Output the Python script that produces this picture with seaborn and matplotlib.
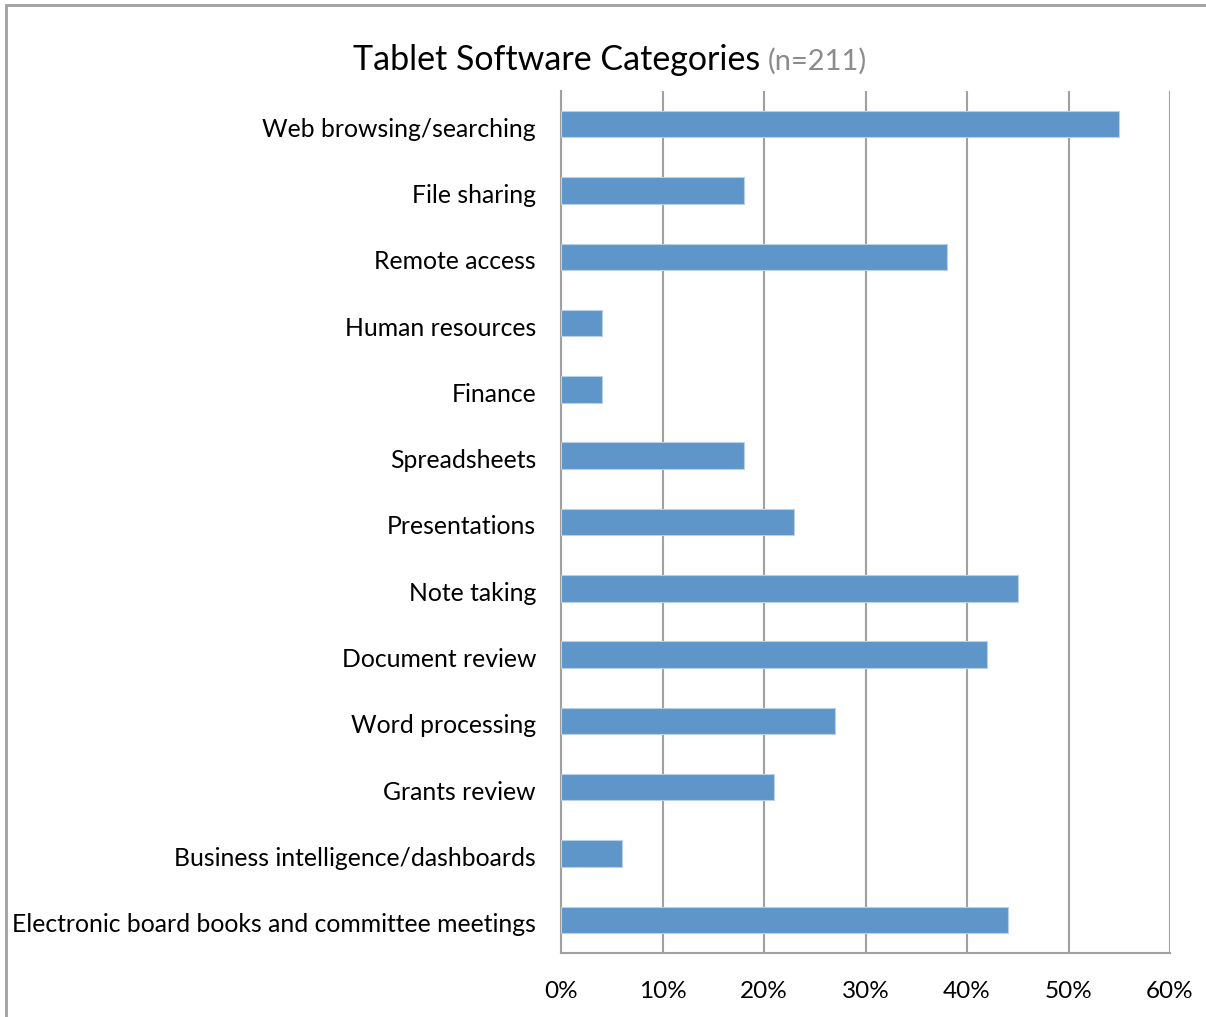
import pandas as pd
import seaborn as sns
import matplotlib.pyplot as plt
from matplotlib.patches import Rectangle
from matplotlib.ticker import PercentFormatter, FixedLocator
from matplotlib.transforms import ScaledTranslation

categories = ['Web browsing/searching', 'File sharing', 'Remote access', 'Human resources',
              'Finance', 'Spreadsheets', 'Presentations', 'Note taking', 'Document review',
              'Word processing', 'Grants review', 'Business intelligence/dashboards',
              'Electronic board books and committee meetings']
shares = [55, 18, 38, 4, 4, 18, 23, 45, 42, 27, 21, 6, 44]
x_ticks = [0, 10, 20, 30, 40, 50, 60]

data = pd.DataFrame({'Category': categories, 'Share': shares})

sns.set_style('white')
plt.rcParams['font.family'] = ['Lato', 'DejaVu Sans']

fig = plt.figure(figsize=(12.06, 10.17), dpi=100)
ax = fig.add_axes([561 / 1206, 1 - 953 / 1017, (1170 - 561) / 1206, (953 - 91) / 1017])

sns.barplot(data=data, x='Share', y='Category', color='#5F96C9', saturation=1, width=0.4,
            edgecolor='#B9D0E8', linewidth=0.8, ax=ax, zorder=3)

ax.set_xlim(0, 60)
ax.set_ylim(len(categories) - 0.5, -0.5)
ax.set_xticks(x_ticks)
ax.xaxis.set_major_formatter(PercentFormatter(decimals=0))
ax.grid(axis='x', color='#A0A0A0', linewidth=1.5, zorder=0)
ax.grid(axis='y', visible=False)
ax.set_xlabel('')
ax.set_ylabel('')

# y ticks: labels at centres, tick marks at category boundaries
ax.tick_params(axis='y', which='major', length=0, pad=18, labelsize=17.8, labelcolor='black')
shift = ScaledTranslation(0, -3 / 100, fig.dpi_scale_trans)
for lbl in ax.get_yticklabels():
    lbl.set_transform(lbl.get_transform() + shift)
ax.yaxis.set_minor_locator(FixedLocator([i - 0.5 for i in range(len(categories) + 1)]))
ax.tick_params(axis='y', which='minor', length=6, width=1.5, color='#A0A0A0', direction='out')
ax.tick_params(axis='x', length=6, width=1.5, color='#A0A0A0', direction='out',
               pad=14, labelsize=17.5, labelcolor='black')

for s in ['top', 'right']:
    ax.spines[s].set_visible(False)
for s in ['left', 'bottom']:
    ax.spines[s].set_color('#A0A0A0')
    ax.spines[s].set_linewidth(1.5)

fig.text(760 / 1206, 1 - 70 / 1017, 'Tablet Software Categories', ha='right', va='baseline',
         fontsize=24.5, color='black')
fig.text(768 / 1206, 1 - 70 / 1017, '(n=211)', ha='left', va='baseline',
         fontsize=21, color='#8C8C8C')

fig.patches.append(Rectangle((6 / 1206, -0.01), 1.1, 1 - 5 / 1017 + 0.01,
                             transform=fig.transFigure, fill=False,
                             edgecolor='#A0A0A0', linewidth=2))

plt.savefig('out.png', dpi=100)
